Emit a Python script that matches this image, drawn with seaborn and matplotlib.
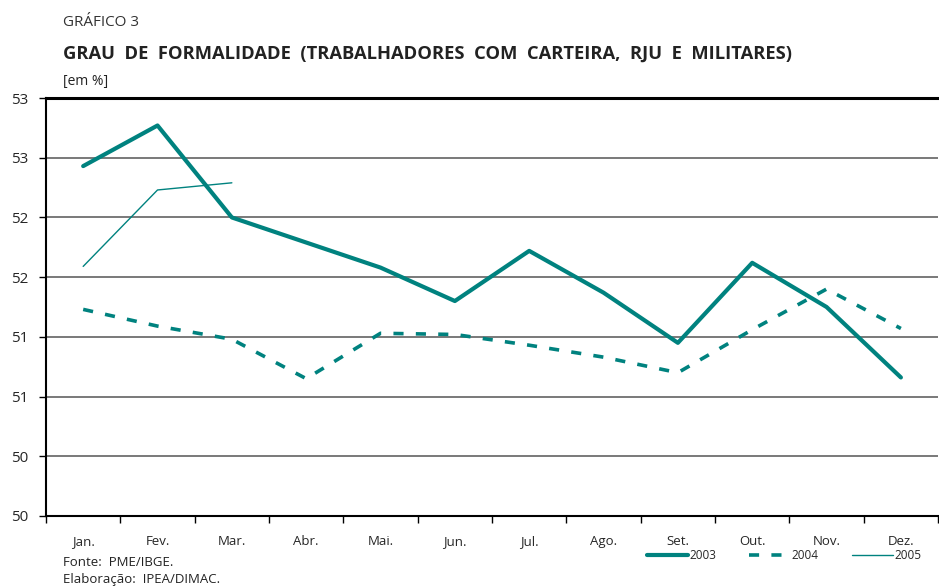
import numpy as np
import pandas as pd
import matplotlib
matplotlib.use("Agg")
import matplotlib.pyplot as plt
from matplotlib.ticker import FixedLocator, FuncFormatter
import seaborn as sns

meses = ["Jan.", "Fev.", "Mar.", "Abr.", "Mai.", "Jun.", "Jul.", "Ago.", "Set.", "Out.", "Nov.", "Dez."]
serie_2003 = [52.93, 53.27, 52.50, 52.29, 52.08, 51.80, 52.22, 51.87, 51.45, 52.12, 51.75, 51.16]
serie_2004 = [51.73, 51.59, 51.48, 51.15, 51.53, 51.52, 51.43, 51.33, 51.20, 51.56, 51.90, 51.57]
serie_2005 = [52.09, 52.73, 52.79]

sns.set_theme(style="white")
plt.rcParams['font.family'] = ['Open Sans', 'DejaVu Sans']

cor = "#00827f"
fig = plt.figure(figsize=(9.39, 5.87), dpi=100)
ax = fig.add_axes([0.049, 0.121, 0.95, 0.712])

x = np.arange(len(meses))
sns.lineplot(x=x, y=serie_2003, ax=ax, color=cor, linewidth=3, label="2003")
sns.lineplot(x=x, y=serie_2004, ax=ax, color=cor, linewidth=2.6, label="2004")
ax.lines[-1].set_dashes([2.8, 3.4])
sns.lineplot(x=x[:len(serie_2005)], y=serie_2005, ax=ax, color=cor, linewidth=1, label="2005")

ax.set_xlim(-0.5, 11.5)
ax.set_ylim(50, 53.5)
yt = np.arange(50, 53.51, 0.5)
ax.set_yticks(yt)
ax.yaxis.set_major_formatter(FuncFormatter(lambda v, p: f"{int(v)}"))
for v in yt[1:-1]:
    ax.axhline(v, color="#555555", lw=1.1, zorder=0)

ax.set_xticks(x)
ax.set_xticklabels(meses, fontsize=9.5)
ax.xaxis.set_minor_locator(FixedLocator(np.arange(-0.5, 12, 1)))
ax.tick_params(axis="x", which="major", length=0, pad=14)
ax.tick_params(axis="x", which="minor", length=5, width=1, color="black", direction="out", bottom=True)
ax.tick_params(axis="y", length=5, width=1, color="black", direction="out", left=True, labelsize=11, pad=8)

for s in ["left", "bottom", "top"]:
    ax.spines[s].set_color("black")
ax.spines["left"].set_linewidth(1.5)
ax.spines["bottom"].set_linewidth(1.5)
ax.spines["top"].set_linewidth(2.2)
ax.spines["right"].set_visible(False)

leg = ax.legend(loc="center", bbox_to_anchor=(0.835, 0.054), bbox_transform=fig.transFigure,
                ncol=3, frameon=False, fontsize=8.5, handlelength=3.5, handletextpad=0.1,
                columnspacing=2.8)

fig.text(0.067, 0.962, "GRÁFICO 3", fontsize=11, color="#333333", va="center")
fig.text(0.067, 0.908, "GRAU  DE  FORMALIDADE  (TRABALHADORES  COM  CARTEIRA,  RJU  E  MILITARES)",
         fontsize=13.2, fontweight="bold", color="#222222", va="center")
fig.text(0.067, 0.861, "[em %]", fontsize=10, color="#222222", va="center")
fig.text(0.067, 0.041, "Fonte:  PME/IBGE.", fontsize=9.5, color="#222222", va="center")
fig.text(0.067, 0.013, "Elaboração:  IPEA/DIMAC.", fontsize=9.5, color="#222222", va="center")

plt.savefig("out.png", dpi=100)
